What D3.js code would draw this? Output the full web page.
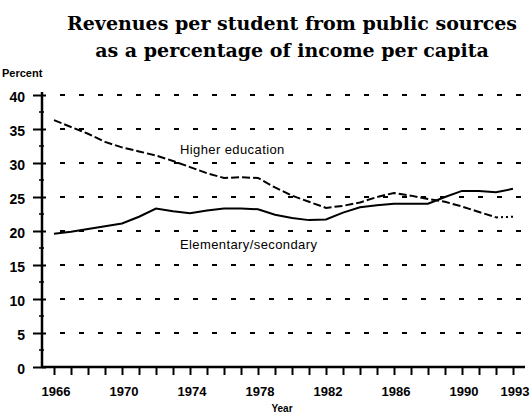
<!DOCTYPE html>
<html>
<head>
<meta charset="utf-8">
<script src="https://cdn.jsdelivr.net/npm/d3@7"></script>
<style>
  body { margin: 0; background: #fff; }
  svg { display: block; }
</style>
</head>
<body>
<div id="graphics-box"></div>
<script>
// DATA
const years = [1966, 1967, 1968, 1969, 1970, 1971, 1972, 1973, 1974, 1975, 1976, 1977, 1978, 1979,
  1980, 1981, 1982, 1983, 1984, 1985, 1986, 1987, 1988, 1989, 1990, 1991, 1992, 1993];
const higherEd = [36.3, 35.3, 34.3, 33.1, 32.3, 31.7, 31.1, 30.3, 29.4, 28.5, 27.8, 27.9, 27.8, 26.4,
  25.2, 24.3, 23.4, 23.7, 24.2, 25.0, 25.6, 25.2, 24.7, 24.3, 23.6, 22.8, 22.0, 22.1];
const elemSec = [19.6, 19.9, 20.3, 20.7, 21.1, 22.1, 23.3, 22.9, 22.6, 23.0, 23.3, 23.3, 23.2, 22.4,
  21.9, 21.6, 21.7, 22.7, 23.5, 23.8, 24.0, 24.0, 24.0, 25.0, 25.9, 25.9, 25.7, 26.2];
const yTicks = [0, 5, 10, 15, 20, 25, 30, 35, 40];
const xTickLabels = [1966, 1970, 1974, 1978, 1982, 1986, 1990, 1993];
const titleLines = ["Revenues per student from public sources", "as a percentage of income per capita"];

// SVG WIDTH, HEIGHT
const w = 532;
const h = 413;

const svg = d3
  .select("#graphics-box")
  .append("svg")
  .attr("width", w)
  .attr("height", h);

// SCALES
const x = d3.scaleLinear().domain([1966, 1993]).range([54, 513]);
const y = d3.scaleLinear().domain([0, 40]).range([367, 95]);
const axisX = 42;
const axisEnd = 525;

// TITLE
svg
  .selectAll(".title")
  .data(titleLines)
  .enter()
  .append("text")
  .attr("class", "title")
  .attr("x", 292)
  .attr("y", (d, i) => 30 + i * 27)
  .attr("text-anchor", "middle")
  .style("font-family", "'DejaVu Serif', serif")
  .style("font-weight", "bold")
  .style("font-size", "19px")
  .text((d) => d);

svg
  .append("text")
  .attr("x", 2)
  .attr("y", 77)
  .style("font-family", "'Liberation Sans', Arial, sans-serif")
  .style("font-weight", "bold")
  .style("font-size", "11px")
  .text("Percent");

// GRIDLINES (dashed)
svg
  .selectAll(".grid")
  .data(yTicks.filter((d) => d > 0))
  .enter()
  .append("line")
  .attr("class", "grid")
  .attr("x1", 60)
  .attr("x2", 523)
  .attr("y1", (d) => y(d))
  .attr("y2", (d) => y(d))
  .attr("stroke", "#000")
  .attr("stroke-width", 2)
  .attr("stroke-dasharray", "5,14");

// Y AXIS
const yAxis = d3.axisLeft(y).tickValues(yTicks).tickSize(9).tickPadding(8);
const gy = svg
  .append("g")
  .attr("transform", "translate(" + axisX + ",0)")
  .call(yAxis);
gy.select(".domain").remove();
gy.selectAll(".tick line").attr("stroke-width", 2).attr("x2", -9).attr("x1", 4);
gy.selectAll(".tick text")
  .attr("dy", "0.45em")
  .style("font-family", "'Liberation Sans', Arial, sans-serif")
  .style("font-weight", "bold")
  .style("font-size", "14px");

// MINOR Y TICKS
svg
  .selectAll(".minor")
  .data(d3.range(2.5, 40, 5))
  .enter()
  .append("line")
  .attr("class", "minor")
  .attr("x1", axisX - 3)
  .attr("x2", axisX + 2)
  .attr("y1", (d) => y(d))
  .attr("y2", (d) => y(d))
  .attr("stroke", "#000")
  .attr("stroke-width", 1.5);

svg
  .append("line")
  .attr("x1", axisX)
  .attr("x2", axisX)
  .attr("y1", y(0))
  .attr("y2", y(40) - 3)
  .attr("stroke", "#000")
  .attr("stroke-width", 2.5);

// X AXIS
const xAxis = d3.axisBottom(x).tickValues(years).tickSize(8).tickFormat("");
const gx = svg
  .append("g")
  .attr("transform", "translate(0," + y(0) + ")")
  .call(xAxis);
gx.select(".domain").remove();
gx.selectAll(".tick line").attr("stroke-width", 2);

svg
  .append("line")
  .attr("x1", axisX)
  .attr("x2", axisEnd)
  .attr("y1", y(0))
  .attr("y2", y(0))
  .attr("stroke", "#000")
  .attr("stroke-width", 2.5);

svg
  .selectAll(".xlabel")
  .data(xTickLabels)
  .enter()
  .append("text")
  .attr("class", "xlabel")
  .attr("x", (d) => x(d) + 2)
  .attr("y", 396)
  .attr("text-anchor", "middle")
  .style("font-family", "'Liberation Sans', Arial, sans-serif")
  .style("font-weight", "bold")
  .style("font-size", "13px")
  .text((d) => d);

svg
  .append("text")
  .attr("x", 282)
  .attr("y", 412)
  .attr("text-anchor", "middle")
  .style("font-family", "'Liberation Sans', Arial, sans-serif")
  .style("font-weight", "bold")
  .style("font-size", "10px")
  .text("Year");

// LINES
const line = d3
  .line()
  .x((d) => x(d[0]))
  .y((d) => y(d[1]));

const elemData = years.map((yr, i) => [yr, elemSec[i]]);
const higherData = years.map((yr, i) => [yr, higherEd[i]]);

svg
  .append("path")
  .datum(elemData)
  .attr("d", line)
  .attr("fill", "none")
  .attr("stroke", "#000")
  .attr("stroke-width", 2);

// last year drawn dotted
svg
  .append("path")
  .datum(higherData.slice(0, -1))
  .attr("d", line)
  .attr("fill", "none")
  .attr("stroke", "#000")
  .attr("stroke-width", 2)
  .attr("stroke-dasharray", "8,3");

svg
  .append("path")
  .datum(higherData.slice(-2))
  .attr("d", line)
  .attr("fill", "none")
  .attr("stroke", "#000")
  .attr("stroke-width", 2)
  .attr("stroke-dasharray", "2,3");

// SERIES LABELS
svg
  .append("text")
  .attr("x", 180)
  .attr("y", 154)
  .style("font-family", "'Liberation Sans', Arial, sans-serif")
  .style("font-size", "13px")
  .style("letter-spacing", "0.4px")
  .text("Higher education");

svg
  .append("text")
  .attr("x", 180)
  .attr("y", 249)
  .style("font-family", "'Liberation Sans', Arial, sans-serif")
  .style("font-size", "13px")
  .style("letter-spacing", "0.4px")
  .text("Elementary/secondary");
</script>
</body>
</html>
